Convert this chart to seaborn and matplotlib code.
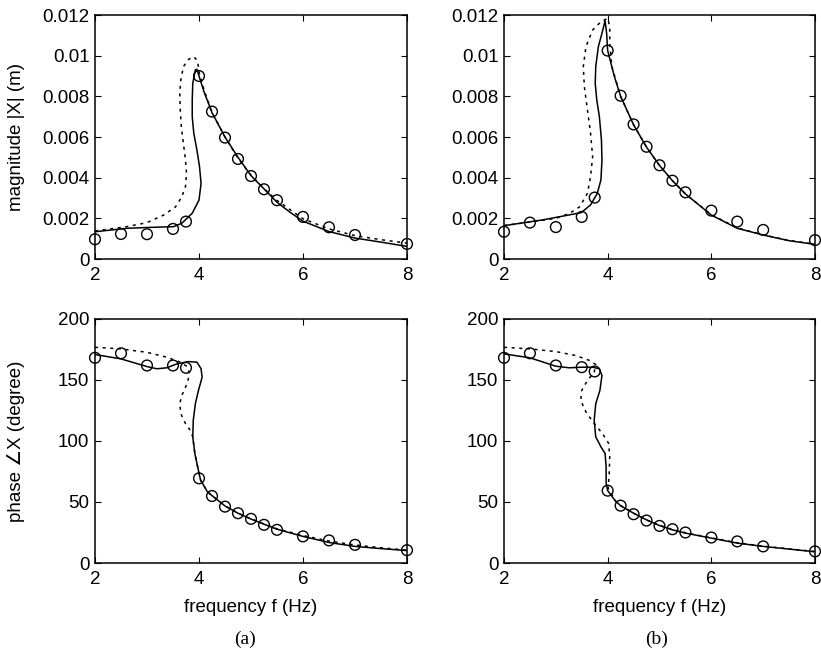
import numpy as np
import pandas as pd
import matplotlib
matplotlib.use('Agg')
import matplotlib.pyplot as plt
import seaborn as sns

# measured points (circles), same frequencies in both cases
freq_exp = [2, 2.5, 3, 3.5, 3.75, 4, 4.25, 4.5, 4.75, 5, 5.25, 5.5, 6, 6.5, 7, 8]
mag_exp_a = [0.00097, 0.00123, 0.00122, 0.00148, 0.00184, 0.0090, 0.00725, 0.00597, 0.00492,
             0.00408, 0.00343, 0.00289, 0.00207, 0.00156, 0.00118, 0.00074]
mag_exp_b = [0.00134, 0.00179, 0.00157, 0.00207, 0.00302, 0.01025, 0.00803, 0.00662, 0.00552,
             0.00461, 0.00385, 0.00328, 0.00238, 0.00184, 0.00143, 0.00093]
phase_exp_a = [168.2, 171.9, 161.9, 161.9, 160.0, 69.4, 54.9, 46.2, 40.8, 36.2, 31.3, 27.2,
               21.8, 18.5, 14.9, 10.5]
phase_exp_b = [168.2, 171.9, 161.9, 160.5, 157.0, 59.3, 47.0, 40.0, 34.8, 30.4, 27.7, 25.0,
               20.9, 17.7, 13.6, 9.5]

# (a) magnitude, solid curve (multi-valued, points in path order)
mag_sol_a_f = [2.0, 2.61, 3.12, 3.51, 3.67, 3.87, 4.0, 4.04, 4.01, 3.96, 3.90, 3.87, 3.87, 3.88,
               3.93, 3.96, 4.0, 4.1, 4.25, 4.5, 4.75, 5.0, 5.25, 5.5, 5.75, 6.0, 6.5, 7.0, 7.5, 8.0]
mag_sol_a_v = [0.00134, 0.00151, 0.00156, 0.00159, 0.00176, 0.00225, 0.0029, 0.00372, 0.00454,
               0.00536, 0.00618, 0.0070, 0.00782, 0.00864, 0.0093, 0.00933, 0.0090, 0.0082,
               0.0072, 0.0060, 0.0050, 0.0041, 0.00345, 0.00279, 0.0023, 0.00186, 0.00135,
               0.00103, 0.00083, 0.00062]
# (a) magnitude, dashed curve
mag_dsh_a_f = [2.0, 2.61, 3.0, 3.32, 3.55, 3.67, 3.74, 3.76, 3.74, 3.70, 3.66, 3.64, 3.63, 3.65,
               3.70, 3.80, 3.90, 3.97, 4.01, 4.1, 4.25, 4.5, 4.75, 5.0, 5.25, 5.5, 6.0, 6.5,
               7.0, 7.5, 8.0]
mag_dsh_a_v = [0.00138, 0.00159, 0.00179, 0.00216, 0.00257, 0.00306, 0.00356, 0.00421, 0.00487,
               0.00569, 0.00651, 0.00733, 0.00815, 0.0088, 0.00946, 0.00982, 0.00995, 0.00975,
               0.0091, 0.0083, 0.0072, 0.0060, 0.00495, 0.00412, 0.00346, 0.00288, 0.00198,
               0.00148, 0.00115, 0.00095, 0.00078]

# (b) magnitude
mag_sol_b_f = [2.0, 2.74, 3.49, 3.67, 3.80, 3.87, 3.89, 3.88, 3.84, 3.79, 3.76, 3.77, 3.82, 3.89,
               3.95, 3.98, 4.0, 4.13, 4.25, 4.5, 4.75, 5.0, 5.25, 5.5, 6.0, 6.5, 7.0, 7.5, 8.0]
mag_sol_b_v = [0.00164, 0.00192, 0.00228, 0.00266, 0.00323, 0.00389, 0.00487, 0.00585, 0.0070,
               0.00782, 0.00864, 0.00946, 0.01044, 0.0111, 0.01172, 0.0111, 0.01025, 0.00897,
               0.0080, 0.0066, 0.0055, 0.0046, 0.00385, 0.0032, 0.00216, 0.00151, 0.00118,
               0.0009, 0.00072]
mag_dsh_b_f = [2.0, 2.5, 3.0, 3.27, 3.46, 3.61, 3.67, 3.71, 3.67, 3.61, 3.55, 3.53, 3.58, 3.71,
               3.87, 4.0, 4.04, 4.04, 4.08, 4.25, 4.5, 4.75, 5.0, 5.25, 5.5, 6.0, 6.5, 7.0,
               7.5, 8.0]
mag_dsh_b_v = [0.00164, 0.00182, 0.0020, 0.00225, 0.00257, 0.00323, 0.00405, 0.00503, 0.00618,
               0.00733, 0.00848, 0.00946, 0.01044, 0.01126, 0.01167, 0.01184, 0.01143, 0.01061,
               0.00946, 0.0080, 0.0066, 0.0055, 0.0046, 0.00385, 0.0032, 0.00218, 0.00153,
               0.00119, 0.00091, 0.00073]

# (a) phase
ph_sol_a_f = [2.0, 2.5, 3.0, 3.19, 3.38, 3.58, 3.80, 3.96, 4.04, 4.06, 3.99, 3.93, 3.89, 3.88,
              3.92, 3.98, 4.03, 4.16, 4.26, 4.5, 4.75, 5.0, 5.25, 5.5, 6.0, 6.5, 7.0, 7.5, 8.0]
ph_sol_a_v = [170.9, 167.3, 161.0, 159.2, 160.0, 163.3, 165.1, 164.6, 159.2, 152.3, 141.5, 130.6,
              117.0, 103.4, 89.8, 77.6, 68.0, 58.5, 54.9, 46.8, 40.8, 36.0, 31.8, 27.7, 21.8,
              16.8, 13.6, 11.8, 10.2]
ph_dsh_a_f = [2.0, 2.5, 3.0, 3.38, 3.64, 3.77, 3.82, 3.77, 3.67, 3.63, 3.65, 3.74, 3.83, 3.88,
              3.92, 3.98, 4.03, 4.16, 4.26, 4.5, 4.75, 5.0, 5.25, 5.5, 6.0, 6.5, 7.0, 7.5, 8.0]
ph_dsh_a_v = [176.8, 175.5, 172.7, 168.7, 164.6, 161.1, 155.1, 146.9, 137.4, 130.6, 122.4, 114.3,
              108.8, 103.4, 89.8, 77.6, 68.0, 58.5, 54.9, 46.8, 40.8, 36.2, 32.0, 28.0, 22.5,
              18.0, 14.8, 12.5, 10.5]

# (b) phase
ph_sol_b_f = [2.0, 2.5, 3.0, 3.26, 3.5, 3.71, 3.84, 3.89, 3.85, 3.77, 3.74, 3.77, 3.87, 3.95,
              3.97, 3.97, 4.0, 4.16, 4.25, 4.5, 4.75, 5.0, 5.25, 5.5, 6.0, 6.5, 7.0, 7.5, 8.0]
ph_sol_b_v = [171.4, 168.2, 161.3, 160.0, 160.5, 160.5, 159.2, 153.7, 141.5, 130.6, 117.0, 103.4,
              95.2, 89.8, 78.9, 65.3, 59.3, 50.3, 47.0, 40.8, 35.3, 30.7, 27.2, 24.5, 20.4,
              16.3, 13.6, 11.4, 9.2]
ph_dsh_b_f = [2.0, 2.5, 3.0, 3.39, 3.65, 3.77, 3.74, 3.61, 3.50, 3.48, 3.58, 3.74, 3.90, 4.02,
              4.04, 4.03, 4.01, 4.16, 4.25, 4.5, 4.75, 5.0, 5.25, 5.5, 6.0, 6.5, 7.0, 7.5, 8.0]
ph_dsh_b_v = [176.8, 175.5, 173.3, 170.0, 166.0, 162.7, 156.4, 149.6, 141.5, 133.3, 123.8, 114.3,
              106.1, 98.0, 87.0, 73.5, 61.2, 50.3, 47.0, 40.8, 35.3, 30.9, 27.4, 24.8, 20.6,
              16.6, 13.8, 11.6, 9.4]

mag_ticks = [0, 0.002, 0.004, 0.006, 0.008, 0.01, 0.012]
mag_labels = ['0', '0.002', '0.004', '0.006', '0.008', '0.01', '0.012']
phase_ticks = [0, 50, 100, 150, 200]
freq_ticks = [2, 4, 6, 8]

sns.set_style('ticks')
plt.rcParams['font.family'] = ['Liberation Sans', 'DejaVu Sans']
plt.rcParams['text.color'] = 'k'
plt.rcParams['axes.labelcolor'] = 'k'
plt.rcParams['xtick.color'] = 'k'
plt.rcParams['ytick.color'] = 'k'
FS = 13.5

fig = plt.figure(figsize=(8.21, 6.51), dpi=100)
W, H = 821, 651


def add_ax(x0, y0, x1, y1):
    return fig.add_axes([x0 / W, 1 - y1 / H, (x1 - x0) / W, (y1 - y0) / H])


ax_ma = add_ax(95, 15, 407, 259)
ax_mb = add_ax(504, 15, 815, 259)
ax_pa = add_ax(95, 319, 407, 563)
ax_pb = add_ax(504, 319, 815, 563)


def draw(ax, fs, vs, fd, vd, ve):
    sns.lineplot(x=fs, y=vs, sort=False, estimator=None, color='k', lw=1.1, ax=ax)
    sns.lineplot(x=fd, y=vd, sort=False, estimator=None, color='k', lw=1.1,
                 linestyle=(0, (2, 3)), ax=ax)
    sns.scatterplot(x=freq_exp, y=ve, marker='o', s=60, facecolor='none', edgecolor='k',
                    linewidth=1.0, ax=ax, zorder=3, clip_on=False)
    ax.set_xlim(2, 8)
    ax.set_xticks(freq_ticks)
    ax.tick_params(direction='in', top=True, right=True, length=4, width=0.8,
                   labelsize=FS, colors='k')
    ax.tick_params(axis='x', pad=6)
    ax.tick_params(axis='y', pad=4)
    for s in ax.spines.values():
        s.set_linewidth(1.1)
        s.set_color('k')


draw(ax_ma, mag_sol_a_f, mag_sol_a_v, mag_dsh_a_f, mag_dsh_a_v, mag_exp_a)
draw(ax_mb, mag_sol_b_f, mag_sol_b_v, mag_dsh_b_f, mag_dsh_b_v, mag_exp_b)
draw(ax_pa, ph_sol_a_f, ph_sol_a_v, ph_dsh_a_f, ph_dsh_a_v, phase_exp_a)
draw(ax_pb, ph_sol_b_f, ph_sol_b_v, ph_dsh_b_f, ph_dsh_b_v, phase_exp_b)

for ax in (ax_ma, ax_mb):
    ax.set_ylim(0, 0.012)
    ax.set_yticks(mag_ticks)
    ax.set_yticklabels(mag_labels)
for ax in (ax_pa, ax_pb):
    ax.set_ylim(0, 200)
    ax.set_yticks(phase_ticks)
    ax.set_xlabel('frequency f (Hz)', fontsize=FS, labelpad=8)

ax_ma.set_ylabel('magnitude |X| (m)', fontsize=FS)
ax_pa.set_ylabel('phase \u2220X (degree)', fontsize=FS)
ax_ma.yaxis.set_label_coords(-0.225, 0.5)
ax_pa.yaxis.set_label_coords(-0.225, 0.5)

fig.text(245 / W, 1 - 639 / H, '(a)', ha='center', va='center',
         family='Liberation Serif', fontsize=14)
fig.text(657 / W, 1 - 639 / H, '(b)', ha='center', va='center',
         family='Liberation Serif', fontsize=14)

fig.savefig('out.png', dpi=100)
